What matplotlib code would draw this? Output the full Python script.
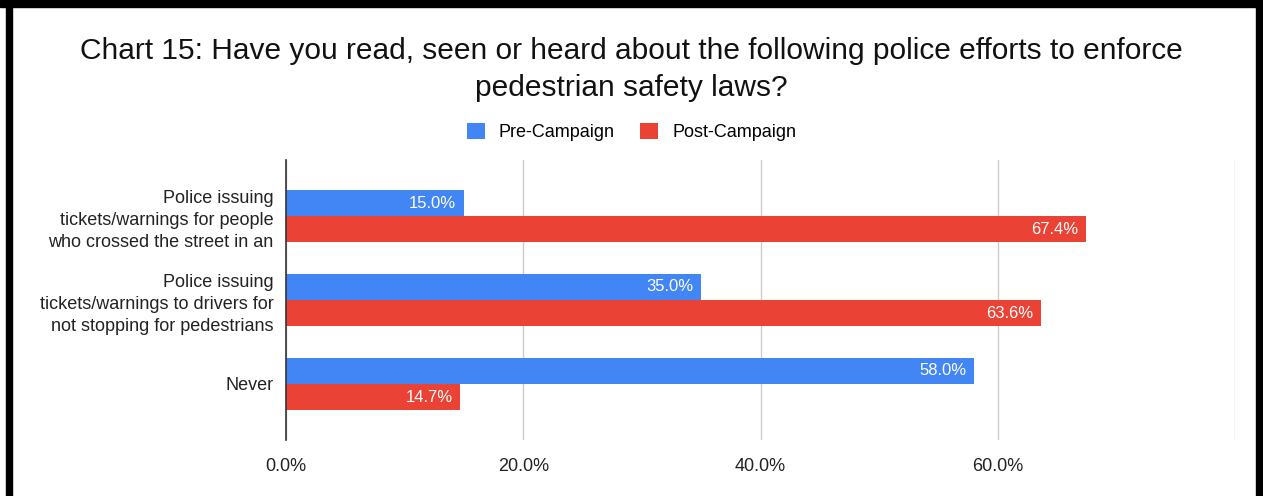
import matplotlib.pyplot as plt
from matplotlib.patches import Rectangle
import numpy as np

plt.rcParams['font.family'] = ['Liberation Sans', 'DejaVu Sans']

#data
categories = ["Police issuing\ntickets/warnings for people\nwho crossed the street in an",
              "Police issuing\ntickets/warnings to drivers for\nnot stopping for pedestrians",
              "Never"]
pre = [15.0, 35.0, 58.0]
post = [67.4, 63.6, 14.7]
xticks = [0, 20, 40, 60, 80]
xticklabels = ["0.0%", "20.0%", "40.0%", "60.0%", ""]

blue = "#4285F4"
red = "#EA4335"

fig = plt.figure(figsize=(12.63, 4.96), dpi=100)
ax = fig.add_axes([0.2265, 0.1129, 0.7514, 0.5645])

y = np.arange(len(categories))
h = 0.3
off = 0.155
ax.barh(y - off, pre, height=h, color=blue, label="Pre-Campaign", zorder=3)
ax.barh(y + off, post, height=h, color=red, label="Post-Campaign", zorder=3)

#value labels inside the bars
for i in range(len(categories)):
    ax.text(pre[i] - 0.65, y[i] - off, "%.1f%%" % pre[i], color="white",
            ha="right", va="center", fontsize=12, zorder=4)
    ax.text(post[i] - 0.65, y[i] + off, "%.1f%%" % post[i], color="white",
            ha="right", va="center", fontsize=12, zorder=4)

ax.set_xlim(0, 80)
ax.set_ylim(1 + 1.667, 1 - 1.667)
ax.set_xticks(xticks)
ax.set_xticklabels(xticklabels, fontsize=13, color="#222222")
ax.set_yticks(y)
ax.set_yticklabels(categories, fontsize=13, color="#222222", linespacing=1.37)
ax.tick_params(axis="x", length=0, pad=13)
ax.tick_params(axis="y", length=0, pad=9)
ax.xaxis.grid(True, color="#cccccc", linewidth=1, zorder=0)
for s in ["top", "right", "bottom"]:
    ax.spines[s].set_visible(False)
ax.spines["left"].set_color("#333333")
ax.spines["left"].set_linewidth(1.2)
ax.spines["left"].set_zorder(5)

fig.text(0.5, 0.86, "Chart 15: Have you read, seen or heard about the following police efforts to enforce\npedestrian safety laws?",
         ha="center", va="center", fontsize=21.5, color="#111111", linespacing=1.38)

fig.legend(loc="center", bbox_to_anchor=(0.5, 0.734), ncol=2, frameon=False,
           fontsize=13, handlelength=1.0, handleheight=1.0, handletextpad=0.78,
           columnspacing=1.4)

#black frame (left, top, right)
fig.add_artist(Rectangle((6/1263, 0), 6/1263, 1, transform=fig.transFigure, color="black"))
fig.add_artist(Rectangle((0, 1 - 7/496), 1, 7/496, transform=fig.transFigure, color="black"))
fig.add_artist(Rectangle((1 - 7/1263, 0), 7/1263, 1, transform=fig.transFigure, color="black"))

fig.savefig("out.png", dpi=100)
